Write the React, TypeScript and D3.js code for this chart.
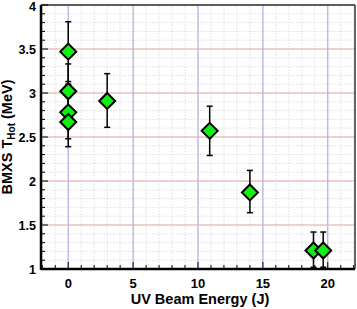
import * as d3 from "d3";

const energy = [0, 0, 0, 0, 3, 10.9, 14, 18.9, 19.65];
const tHot = [3.47, 3.02, 2.78, 2.67, 2.91, 2.57, 1.87, 1.21, 1.21];
const errLow = [3.13, 2.71, 2.48, 2.39, 2.61, 2.29, 1.64, 1.02, 1.02];
const errHigh = [3.81, 3.33, 3.1, 2.95, 3.22, 2.85, 2.12, 1.42, 1.42];
const xTicks = [0, 5, 10, 15, 20];
const yTicks = [1, 1.5, 2, 2.5, 3, 3.5, 4];

export default function App() {
  const width = 357;
  const height = 309;
  const marginLeft = 41;
  const marginRight = 2;
  const marginTop = 5;
  const marginBottom = 40;

  const x = d3.scaleLinear([-2.1, 22.1], [marginLeft, width - marginRight]);
  const y = d3.scaleLinear([1, 4], [height - marginBottom, marginTop]);

  const xMinor = d3.range(-2, 23, 1);
  const yMinor = d3.range(1, 4.001, 0.1);
  const r = 8;
  const diamond = (cx: number, cy: number) =>
    `M${cx},${cy - r}L${cx + r},${cy}L${cx},${cy + r}L${cx - r},${cy}Z`;

  const x0 = marginLeft;
  const x1 = width - marginRight;
  const y0 = height - marginBottom;
  const y1 = marginTop;

  return (
    <svg
      width={width}
      height={height}
      style={{ position: "absolute", left: 0, top: 0, background: "white" }}
      fontFamily="'Liberation Sans', Arial, sans-serif"
      fontWeight="bold"
    >
      {/* minor grid */}
      <g stroke="#d8d8d8" strokeWidth="0.8" strokeDasharray="1.5,1.5">
        {xMinor.map((d) => (
          <line key={"xm" + d} x1={x(d)} x2={x(d)} y1={y0} y2={y1} />
        ))}
        {yMinor.map((d, i) => (
          <line key={"ym" + i} x1={x0} x2={x1} y1={y(d)} y2={y(d)} />
        ))}
      </g>
      {/* major grid */}
      <g stroke="#b0b0e8" strokeWidth="1.2">
        {xTicks.map((d) => (
          <line key={"xg" + d} x1={x(d)} x2={x(d)} y1={y0} y2={y1} />
        ))}
      </g>
      <g stroke="#eaa8a8" strokeWidth="1.2">
        {yTicks.map((d) => (
          <line key={"yg" + d} x1={x0} x2={x1} y1={y(d)} y2={y(d)} />
        ))}
      </g>
      {/* frame */}
      <line x1={x0} x2={x1} y1={y1} y2={y1} stroke="#333" strokeWidth="1.5" />
      <line x1={x1} x2={x1} y1={y0} y2={y1} stroke="#333" strokeWidth="1.5" />
      {/* ticks */}
      <g stroke="#000" strokeWidth="1">
        {yMinor.map((d, i) => (
          <line key={"yt" + i} x1={x0} x2={x0 + (i % 5 === 0 ? 7 : 4)} y1={y(d)} y2={y(d)} />
        ))}
        {xMinor.map((d) => (
          <line key={"xt" + d} x1={x(d)} x2={x(d)} y1={y0} y2={y0 - (d % 5 === 0 ? 7 : 4)} />
        ))}
      </g>
      <line x1={x0} x2={x0} y1={y0 + 1} y2={y1} stroke="#000" strokeWidth="2.5" />
      <line x1={x0} x2={x1} y1={y0} y2={y0} stroke="#000" strokeWidth="2.5" />
      {/* tick labels */}
      <g fontSize="12.5" textAnchor="end">
        {yTicks.map((d) => (
          <text key={"yl" + d} x={36} y={Math.max(y(d) + 4.5, 11)}>
            {d}
          </text>
        ))}
      </g>
      <g fontSize="13" textAnchor="middle">
        {xTicks.map((d) => (
          <text key={"xl" + d} x={x(d)} y={288}>
            {d}
          </text>
        ))}
      </g>
      <text x={(x0 + x1) / 2 + 2} y={304} fontSize="14.5" textAnchor="middle">
        UV Beam Energy (J)
      </text>
      <text
        transform={`translate(12,${(y0 + y1) / 2}) rotate(-90)`}
        fontSize="14.5"
        textAnchor="middle"
      >
        BMXS T<tspan fontSize="10" dy="3">Hot</tspan>
        <tspan dy="-3"> (MeV)</tspan>
      </text>
      {/* error bars */}
      <g stroke="#000" strokeWidth="1.5">
        {energy.map((e, i) => (
          <g key={"e" + i}>
            <line x1={x(e)} x2={x(e)} y1={y(errLow[i])} y2={y(errHigh[i])} />
            <line x1={x(e) - 3} x2={x(e) + 3} y1={y(errLow[i])} y2={y(errLow[i])} />
            <line x1={x(e) - 3} x2={x(e) + 3} y1={y(errHigh[i])} y2={y(errHigh[i])} />
          </g>
        ))}
      </g>
      {/* markers */}
      <g fill="#11ee11" stroke="#000" strokeWidth="2">
        {energy.map((e, i) => (
          <path key={"p" + i} d={diamond(x(e), y(tHot[i]))} />
        ))}
      </g>
    </svg>
  );
}
